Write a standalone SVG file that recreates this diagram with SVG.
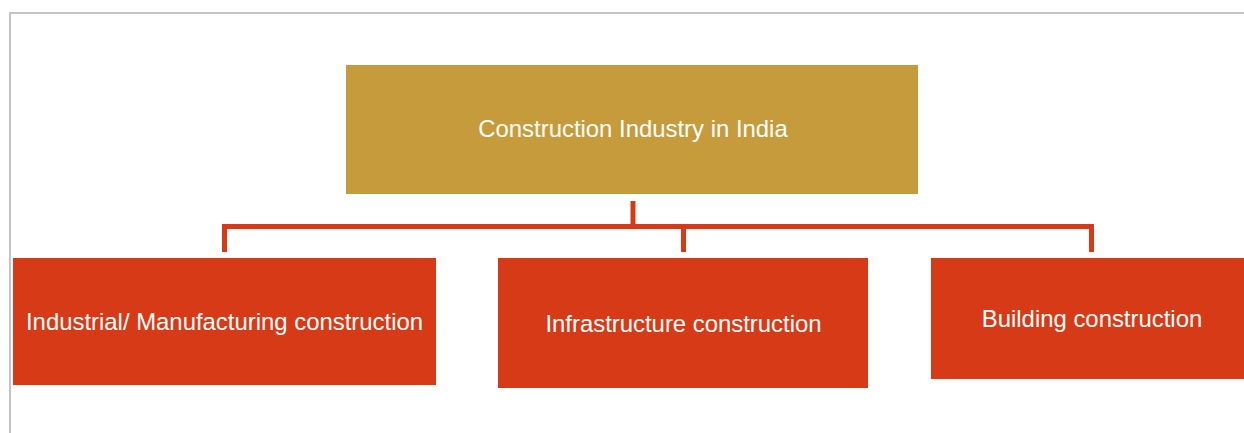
<svg xmlns="http://www.w3.org/2000/svg" width="1244" height="433" viewBox="0 0 1244 433">
<style>
.frame{fill:none;stroke:#c4c4c4;stroke-width:2}
.top{fill:#c69b3b}
.sub{fill:#d63a16}
.lbl{font-family:"Liberation Sans",Arial,sans-serif;font-size:23.9px;fill:#ffffff;text-anchor:middle}
.conn{fill:none;stroke:#d63a16;stroke-width:5}
</style>
<rect width="1244" height="433" fill="#ffffff"/>
<path class="frame" d="M10,433 V13 H1244"/>
<g id="connectors">
<path class="conn" d="M633,201 V226.5"/>
<path class="conn" d="M224.5,252 V226.5 H1091.5 V252"/>
<path class="conn" d="M683.5,226.5 V252"/>
</g>
<g id="node-root">
<rect class="top" x="346" y="65" width="572" height="129"/>
<text class="lbl" x="633" y="137">Construction Industry in India</text>
</g>
<g id="node-industrial">
<rect class="sub" x="13" y="258" width="423" height="127"/>
<text class="lbl" x="224.5" y="329.5">Industrial/ Manufacturing construction</text>
</g>
<g id="node-infrastructure">
<rect class="sub" x="498" y="258" width="370" height="130"/>
<text class="lbl" x="683.5" y="331.5">Infrastructure construction</text>
</g>
<g id="node-building">
<rect class="sub" x="931" y="258" width="313" height="121"/>
<text class="lbl" x="1092" y="326.5">Building construction</text>
</g>
</svg>
